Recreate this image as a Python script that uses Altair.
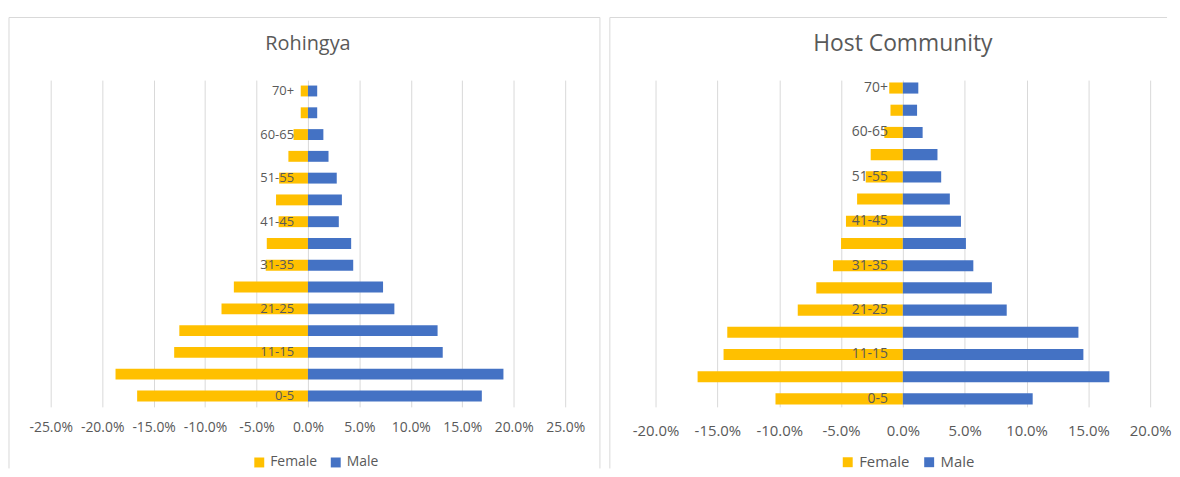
import altair as alt
import pandas as pd

# ---------------- data ----------------
ages = ["0-5", "6-10", "11-15", "16-20", "21-25", "26-30", "31-35", "36-40",
        "41-45", "46-50", "51-55", "56-60", "60-65", "66-70", "70+"]
labeled_ages = ["0-5", "11-15", "21-25", "31-35", "41-45", "51-55", "60-65", "70+"]

roh_female = [16.6, 18.7, 13.0, 12.5, 8.4, 7.2, 4.1, 4.0, 2.85, 3.1, 2.8, 1.9, 1.4, 0.7, 0.7]
roh_male = [16.9, 19.0, 13.1, 12.6, 8.4, 7.3, 4.4, 4.2, 3.0, 3.3, 2.8, 2.0, 1.5, 0.9, 0.9]

host_female = [10.3, 16.6, 14.5, 14.2, 8.5, 7.0, 5.65, 5.0, 4.6, 3.7, 3.0, 2.6, 1.5, 1.0, 1.1]
host_male = [10.5, 16.7, 14.6, 14.2, 8.4, 7.2, 5.7, 5.1, 4.7, 3.8, 3.1, 2.8, 1.6, 1.15, 1.25]

sexes = ["Female", "Male"]
colors = ["#FFC000", "#4472C4"]

roh_ticks = [-0.25, -0.20, -0.15, -0.10, -0.05, 0.0, 0.05, 0.10, 0.15, 0.20, 0.25]
host_ticks = [-0.20, -0.15, -0.10, -0.05, 0.0, 0.05, 0.10, 0.15, 0.20]

titles = ["Rohingya", "Host Community"]

FONT = "Open Sans"
GRID = "#D9D9D9"
TEXT = "#595959"


def build_df(female, male):
    rows = []
    for a, f, m in zip(ages, female, male):
        rows.append({"age": a, "sex": "Female", "value": -f / 100.0})
        rows.append({"age": a, "sex": "Male", "value": m / 100.0})
    return pd.DataFrame(rows)


def panel(title, female, male, ticks, w, h, pad_outer, style):
    s = style
    df = build_df(female, male)
    ydom = list(reversed(ages))
    yscale = alt.Scale(domain=ydom, paddingInner=0.5, paddingOuter=pad_outer)
    xscale = alt.Scale(domain=[ticks[0], ticks[-1]], nice=False, zero=False)
    label_expr = "(datum.value < 0 ? '-' : '') + format(abs(datum.value), '.1%')"

    bars = alt.Chart(df).mark_bar().encode(
        x=alt.X("value:Q", scale=xscale, stack=None,
                axis=alt.Axis(values=ticks, labelExpr=label_expr, grid=True,
                              gridColor=GRID, gridWidth=1, domain=False, ticks=False,
                              labelOverlap=False, labelFlush=False,
                              labelPadding=s["label_pad"], labelFontSize=s["tick_fs"],
                              labelColor=TEXT, labelFont=FONT, title=None)),
        y=alt.Y("age:N", scale=yscale, axis=None),
        color=alt.Color("sex:N", scale=alt.Scale(domain=sexes, range=colors),
                        legend=alt.Legend(orient="none", legendX=s["legend_x"],
                                          legendY=s["legend_y"],
                                          direction="horizontal", title=None,
                                          symbolType="square", symbolSize=100,
                                          symbolStrokeWidth=0, labelFontSize=s["legend_fs"],
                                          labelFont=FONT, labelColor=TEXT,
                                          columnPadding=s["col_pad"], labelOffset=4)),
    )

    labels = alt.Chart(pd.DataFrame({"age": labeled_ages})).mark_text(
        align="right", baseline="middle", dx=s["cat_dx"], fontSize=s["cat_fs"],
        font=FONT, color=TEXT
    ).encode(
        x=alt.datum(0),
        y=alt.Y("age:N", scale=yscale, axis=None),
        text="age:N",
    )

    title_mark = alt.Chart(pd.DataFrame({"t": [title]})).mark_text(
        align="center", baseline="middle", fontSize=s["title_fs"], font=FONT, color=TEXT
    ).encode(x=alt.value(w / 2), y=alt.value(s["title_y"]), text="t:N")

    one = pd.DataFrame({"k": [0]})
    rule = alt.Chart(one).mark_rule(color=GRID, strokeWidth=1)
    fl, fr, ft, fb = s["frame"]
    layers = [
        rule.encode(x=alt.value(fl), y=alt.value(ft), y2=alt.value(fb)),
        rule.encode(x=alt.value(fl), x2=alt.value(fr), y=alt.value(ft)),
    ]
    if s["right_edge"]:
        layers.append(rule.encode(x=alt.value(fr), y=alt.value(ft), y2=alt.value(fb)))
    layers += [bars, labels, title_mark]

    return alt.layer(*layers).properties(width=w, height=h)


roh_style = dict(label_pad=14, tick_fs=14, legend_x=203, legend_y=378, legend_fs=14,
                 col_pad=11, cat_dx=-14, cat_fs=13, title_fs=20, title_y=-36,
                 frame=(-42, 553, -63, 391), right_edge=True)
host_style = dict(label_pad=17, tick_fs=15, legend_x=186, legend_y=377, legend_fs=15,
                  col_pad=12, cat_dx=-15, cat_fs=14, title_fs=23, title_y=-36,
                  frame=(-46, 515, -63, 391), right_edge=False)

left = panel(titles[0], roh_female, roh_male, roh_ticks, 518, 329, 0.25, roh_style)
right = panel(titles[1], host_female, host_male, host_ticks, 498, 329, 0.107, host_style)

chart = alt.hconcat(left, right, spacing=8).resolve_scale(
    color="independent", x="independent"
).resolve_legend(color="independent").properties(
    padding={"left": 0, "top": 7, "right": 0, "bottom": 0},
    background="white",
).configure_view(stroke=None)

chart.save("out.html", embed_options={"renderer": "svg", "actions": False})
